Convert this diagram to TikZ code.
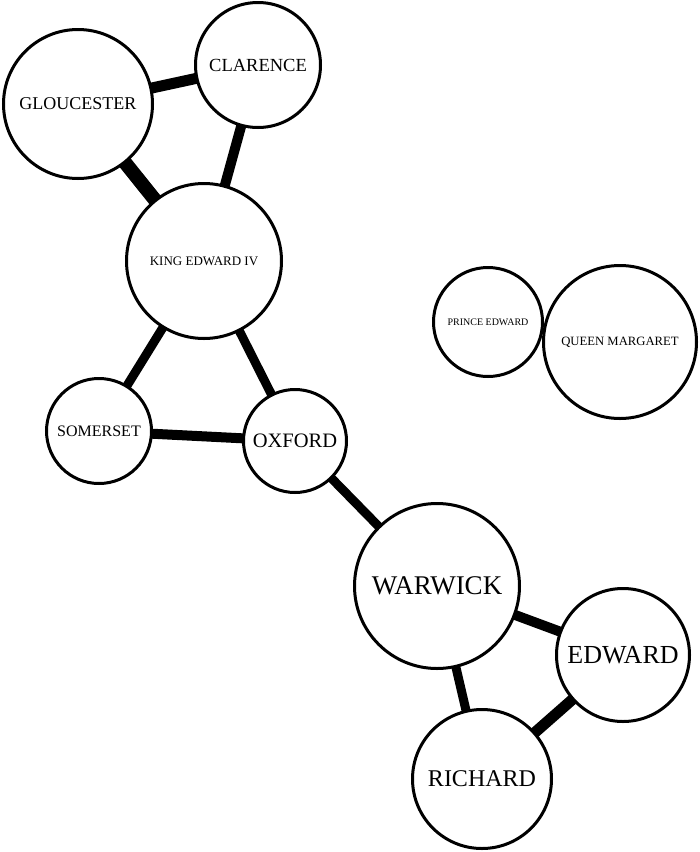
\documentclass[tikz,border=0pt]{standalone}
\usepackage{fontspec}
\setmainfont{Liberation Serif}

\begin{document}
\begin{tikzpicture}[x=1pt,y=-1pt,
	person/.style={circle,draw=black,fill=white,line width=3pt,inner sep=0pt},
	tie/.style={line width=#1}]

	\pgfdeclarelayer{bg}
	\pgfsetlayers{bg,main}

	\useasboundingbox (0,0) rectangle (700,852);

	\node[person,minimum size=149pt,font=\fontsize{18}{18}\selectfont] (gloucester) at(78,104) {GLOUCESTER};
	\node[person,minimum size=125pt,font=\fontsize{18.5}{18.5}\selectfont] (clarence) at(258,65) {CLARENCE};
	\node[person,minimum size=155pt,font=\fontsize{13}{13}\selectfont] (kingedward) at(204,261) {KING EDWARD IV};
	\node[person,minimum size=105pt,font=\fontsize{16}{16}\selectfont] (somerset) at(99,431) {SOMERSET};
	\node[person,minimum size=103pt,font=\fontsize{20.5}{20.5}\selectfont] (oxford) at(295,441) {OXFORD};
	\node[person,minimum size=165pt,font=\fontsize{27}{27}\selectfont] (warwick) at(437,586) {WARWICK};
	\node[person,minimum size=133pt,font=\fontsize{26}{26}\selectfont] (edward) at(623,655) {EDWARD};
	\node[person,minimum size=139pt,font=\fontsize{24}{24}\selectfont] (richard) at(482,779) {RICHARD};
	\node[person,minimum size=109pt,font=\fontsize{10}{10}\selectfont] (prince) at(488,322) {PRINCE EDWARD};
	\node[person,minimum size=153pt,font=\fontsize{12.7}{12.7}\selectfont] (queen) at(620,342) {QUEEN MARGARET};

	\begin{pgfonlayer}{bg}

		\draw[tie=11pt] (gloucester.center) -- (clarence.center);
		\draw[tie=14pt] (gloucester.center) -- (kingedward.center);
		\draw[tie=10pt] (clarence.center) -- (kingedward.center);
		\draw[tie=9pt] (kingedward.center) -- (somerset.center);
		\draw[tie=9pt] (kingedward.center) -- (oxford.center);
		\draw[tie=10pt] (somerset.center) -- (oxford.center);
		\draw[tie=9pt] (oxford.center) -- (warwick.center);
		\draw[tie=10pt] (warwick.center) -- (edward.center);
		\draw[tie=9pt] (warwick.center) -- (richard.center);
		\draw[tie=11pt] (edward.center) -- (richard.center);
		\draw[tie=5pt] (prince.center) -- (queen.center);

	\end{pgfonlayer}

\end{tikzpicture}
\end{document}
